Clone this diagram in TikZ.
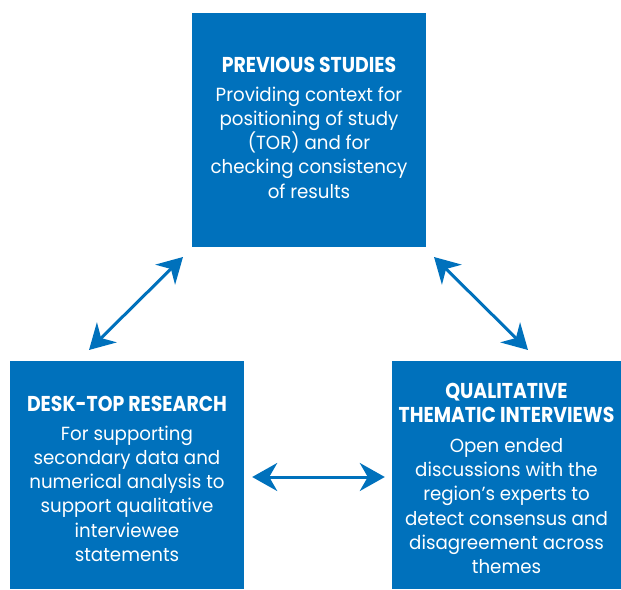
\documentclass[tikz,border=0pt]{standalone}
\usepackage{fontspec}
\setmainfont{Poppins}[FakeStretch=0.96]
\usetikzlibrary{arrows.meta}
\definecolor{boxblue}{RGB}{0,113,188}
\tikzset{
  blockbox/.style={fill=boxblue, draw=none, inner sep=0pt, text=white, align=center,
    font=\fontsize{19}{24.1}\selectfont},
  dblarrow/.style={draw=boxblue, line width=3pt,
    {Stealth[length=25pt,width=28pt,inset=8pt]}-{Stealth[length=25pt,width=28pt,inset=8pt]}},
}
\newcommand{\ttl}[1]{{\fontspec{Poppins}[FakeStretch=0.877]\fontsize{21.5}{23.7}\selectfont\bfseries #1}}
\begin{document}
\begin{tikzpicture}[x=1pt,y=-1pt]
\useasboundingbox (0,0) rectangle (621,589);
\node[blockbox, minimum width=234pt, minimum height=234pt] (prev) at (309,130) {};
\node[blockbox, minimum width=234pt, minimum height=228pt] (desk) at (127,475) {};
\node[blockbox, minimum width=229pt, minimum height=228pt] (qual) at (506.5,475) {};
\node[blockbox, fill=none, anchor=north] (prevtxt) at (309,57)
  {\ttl{PREVIOUS STUDIES}\\[5pt]Providing context for\\positioning of study\\(TOR) and for\\checking consistency\\of results};
\node[blockbox, fill=none, anchor=north] (desktxt) at (127,396)
  {\ttl{DESK-TOP RESEARCH}\\[5pt]For supporting\\secondary data and\\numerical analysis to\\support qualitative\\interviewee\\statements};
\node[blockbox, fill=none, anchor=north] (qualtxt) at (506.5,383)
  {\ttl{QUALITATIVE}\\ \ttl{THEMATIC INTERVIEWS}\\[6pt]Open ended\\discussions with the\\region’s experts to\\detect consensus and\\disagreement across\\themes};
\coordinate (a1) at (89,350);
\coordinate (a2) at (183,257);
\coordinate (b1) at (434,257);
\coordinate (b2) at (528,350);
\draw[dblarrow] (a1) -- (a2);
\draw[dblarrow] (b1) -- (b2);
\draw[dblarrow] ([xshift=8pt]desk.east|-0,477) -- ([xshift=-7pt]qual.west|-0,477);
\end{tikzpicture}
\end{document}
